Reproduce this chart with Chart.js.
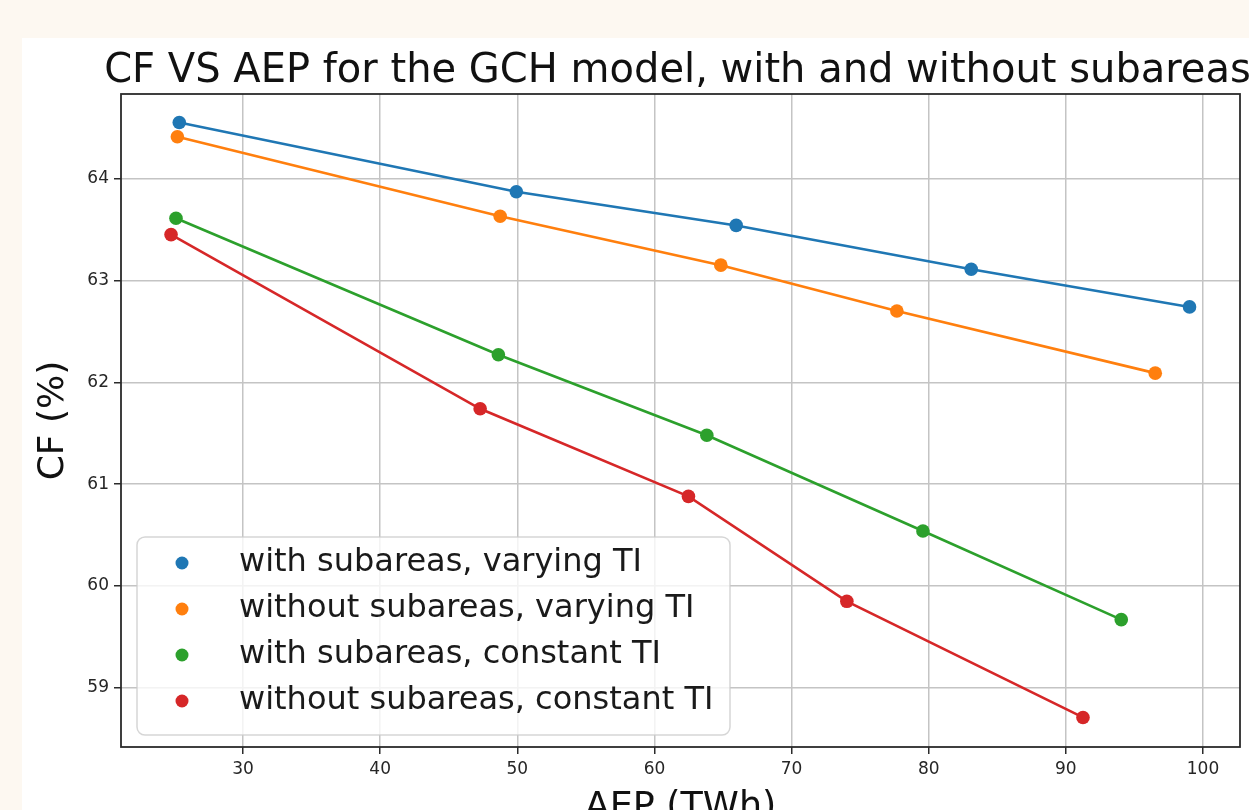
<!DOCTYPE html>
<html>
<head>
<meta charset="utf-8">
<script src="https://cdn.jsdelivr.net/npm/chart.js@4/dist/chart.umd.min.js"></script>
<style>
html,body{margin:0;padding:0;overflow:hidden;background:#fdf8f1;width:1249px;height:810px;}
#panel{position:absolute;left:22px;top:38px;width:1400px;height:900px;background:#fff;}
#wrap{position:absolute;left:0;top:0;width:1361px;height:860px;}
</style>
</head>
<body>
<div id="panel"></div>
<div id="wrap"><canvas id="c" width="1361" height="860"></canvas></div>
<script>
// values
const seriesLabels = ['with subareas, varying TI','without subareas, varying TI','with subareas, constant TI','without subareas, constant TI'];
const seriesColors = ['#1f77b4','#ff7f0e','#2ca02c','#d62728'];

const aepWithVarying = [25.35, 49.93, 65.96, 83.10, 99.02];
const cfWithVarying  = [64.55, 63.87, 63.54, 63.11, 62.74];

const aepWithoutVarying = [25.21, 48.75, 64.84, 77.68, 96.52];
const cfWithoutVarying  = [64.41, 63.63, 63.15, 62.70, 62.09];

const aepWithConstant = [25.11, 48.62, 63.82, 79.58, 94.04];
const cfWithConstant  = [63.61, 62.27, 61.48, 60.54, 59.67];

const aepWithoutConstant = [24.75, 47.29, 62.48, 74.03, 91.25];
const cfWithoutConstant  = [63.45, 61.74, 60.88, 59.85, 58.71];

const xTicks = [30, 40, 50, 60, 70, 80, 90, 100];
const yTicks = [59, 60, 61, 62, 63, 64];

const titleText = 'CF VS AEP for the GCH model, with and without subareas';

const xs = [aepWithVarying, aepWithoutVarying, aepWithConstant, aepWithoutConstant];
const ys = [cfWithVarying, cfWithoutVarying, cfWithConstant, cfWithoutConstant];

const FONT = 'DejaVu Sans';

const datasets = seriesLabels.map((lab, i) => ({
  label: lab,
  data: xs[i].map((x, j) => ({x: x, y: ys[i][j]})),
  showLine: true,
  borderColor: seriesColors[i],
  backgroundColor: seriesColors[i],
  borderWidth: 2.6,
  pointRadius: 6.8,
  pointBorderWidth: 0,
  pointBackgroundColor: seriesColors[i],
  order: 4 - i
}));

// frame round the plot area + title centred over the axes (like matplotlib)
const framePlugin = {
  id: 'frame',
  afterDatasetsDraw(chart) {
    const a = chart.chartArea, ctx = chart.ctx;
    ctx.save();
    ctx.strokeStyle = '#2b2b2b';
    ctx.lineWidth = 1.8;
    ctx.strokeRect(a.left, a.top, a.right - a.left, a.bottom - a.top);
    ctx.fillStyle = '#111';
    ctx.font = '40px "' + FONT + '"';
    ctx.textAlign = 'center';
    ctx.textBaseline = 'alphabetic';
    ctx.fillText(titleText, (a.left + a.right) / 2 - 3, a.top - 12);
    ctx.restore();
  }
};

// matplotlib style legend, lower left, semi transparent
const legendPlugin = {
  id: 'mplLegend',
  afterDraw(chart) {
    const a = chart.chartArea, ctx = chart.ctx;
    const bx = a.left + 16, bw = 593, bh = 198, by = a.bottom - 12 - bh;
    ctx.save();
    ctx.beginPath();
    ctx.roundRect(bx, by, bw, bh, 8);
    ctx.fillStyle = 'rgba(255,255,255,0.8)';
    ctx.fill();
    ctx.strokeStyle = 'rgba(204,204,204,0.8)';
    ctx.lineWidth = 1.5;
    ctx.stroke();
    ctx.font = '32px "' + FONT + '"';
    ctx.textBaseline = 'middle';
    chart.data.datasets.forEach((ds, i) => {
      const cy = by + 26 + i * 46;
      ctx.beginPath();
      ctx.arc(bx + 45, cy, 6.5, 0, Math.PI * 2);
      ctx.fillStyle = ds.pointBackgroundColor;
      ctx.fill();
      ctx.fillStyle = '#1a1a1a';
      ctx.fillText(ds.label, bx + 102, cy);
    });
    ctx.restore();
  }
};

new Chart(document.getElementById('c'), {
  type: 'scatter',
  data: {datasets: datasets},
  plugins: [framePlugin, legendPlugin],
  options: {
    responsive: false,
    animation: false,
    devicePixelRatio: 1,
    layout: {padding: {left: 0, right: 121, top: 94, bottom: 0}},
    plugins: {
      legend: {display: false},
      tooltip: {enabled: false},
      title: {display: false}
    },
    scales: {
      x: {
        type: 'linear',
        min: 21.1, max: 102.7,
        afterFit(s) { s.height = 113; },
        afterBuildTicks(s) { s.ticks = xTicks.map(v => ({value: v})); },
        grid: {color: '#c4c4c4', lineWidth: 1.5, tickColor: '#2b2b2b', tickLength: 7, tickWidth: 1.5},
        border: {display: false},
        ticks: {color: '#262626', font: {family: FONT, size: 17}, padding: 5, maxRotation: 0},
        title: {display: true, text: 'AEP (TWh)', color: '#111', font: {family: FONT, size: 36.5}, padding: {top: 0, bottom: 30}}
      },
      y: {
        type: 'linear',
        min: 58.42, max: 64.83,
        afterFit(s) { s.width = 121; },
        afterBuildTicks(s) { s.ticks = yTicks.map(v => ({value: v})); },
        grid: {color: '#c4c4c4', lineWidth: 1.5, tickColor: '#2b2b2b', tickLength: 7, tickWidth: 1.5},
        border: {display: false},
        ticks: {color: '#262626', font: {family: FONT, size: 17}, padding: 5},
        title: {display: true, text: 'CF (%)', color: '#111', font: {family: FONT, size: 36}, padding: {top: 32, bottom: 0}}
      }
    }
  }
});
</script>
</body>
</html>
